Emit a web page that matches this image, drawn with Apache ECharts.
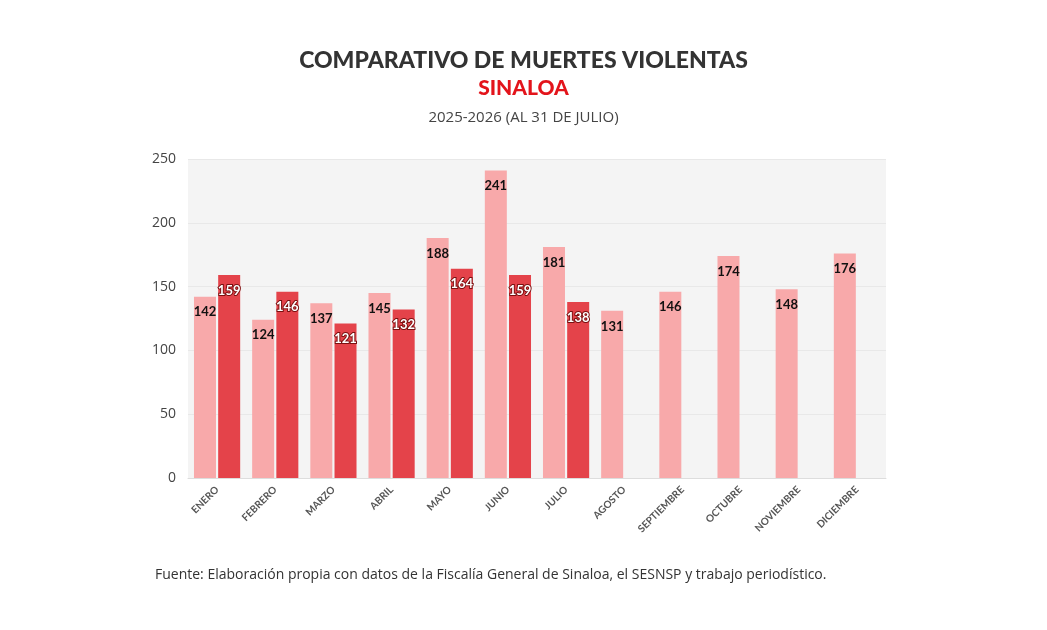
<!DOCTYPE html>
<html><head><meta charset="utf-8">
<script src="https://cdn.jsdelivr.net/npm/echarts@6/dist/echarts.min.js"></script>
<style>html,body{margin:0;background:#fff}#c{width:1047px;height:630px}</style>
</head><body><div id="c"></div>
<script>
const months=["ENERO","FEBRERO","MARZO","ABRIL","MAYO","JUNIO","JULIO","AGOSTO","SEPTIEMBRE","OCTUBRE","NOVIEMBRE","DICIEMBRE"];
const y2025=[142,124,137,145,188,241,181,131,146,174,148,176];
const y2026=[159,146,121,132,164,159,138,null,null,null,null,null];
const chart=echarts.init(document.getElementById('c'));
chart.setOption({
 backgroundColor:'#fff',
 title:[
  {text:'COMPARATIVO DE MUERTES VIOLENTAS',left:'center',top:44,textStyle:{fontFamily:'Lato',fontWeight:900,fontSize:23,color:'#333'}},
  {text:'SINALOA',left:'center',top:73,textStyle:{fontFamily:'Lato',fontWeight:900,fontSize:21,color:'#e3141b'}},
  {text:'2025-2026 (AL 31 DE JULIO)',left:'center',top:105,textStyle:{fontFamily:'Open Sans',fontWeight:'normal',fontSize:15,color:'#444'}},
  {text:'Fuente: Elaboración propia con datos de la Fiscalía General de Sinaloa, el SESNSP y trabajo periodístico.',left:150,top:563,textStyle:{fontFamily:'Open Sans',fontWeight:'normal',fontSize:14,color:'#333'}}
 ],
 grid:{left:188,right:161,top:159,bottom:152,show:true,backgroundColor:'#f4f4f4',borderWidth:0},
 xAxis:{type:'category',data:months,axisLine:{lineStyle:{color:'#ddd'}},axisTick:{show:false},
  axisLabel:{rotate:45,fontFamily:'Lato',fontWeight:'bold',fontSize:10,color:'#555',margin:10,interval:0}},
 yAxis:{type:'value',min:0,max:250,interval:50,splitLine:{lineStyle:{color:'#e8e8e8'}},
  axisLabel:{fontFamily:'Open Sans',fontSize:14,color:'#444',margin:12}},
 series:[
  {type:'bar',data:y2025,barWidth:22,barGap:'10%',itemStyle:{color:'#f8a9aa'},
   label:{show:true,position:'insideTop',offset:[0,4],fontFamily:'Lato',fontWeight:'bold',fontSize:13,color:'#111'}},
  {type:'bar',data:y2026,barWidth:22,itemStyle:{color:'#e4434a'},
   label:{show:true,position:'insideTop',offset:[0,4],fontFamily:'Lato',fontWeight:'bold',fontSize:13,color:'#fff',textBorderColor:'#7a1010',textBorderWidth:2}}
 ]
});
</script></body></html>
